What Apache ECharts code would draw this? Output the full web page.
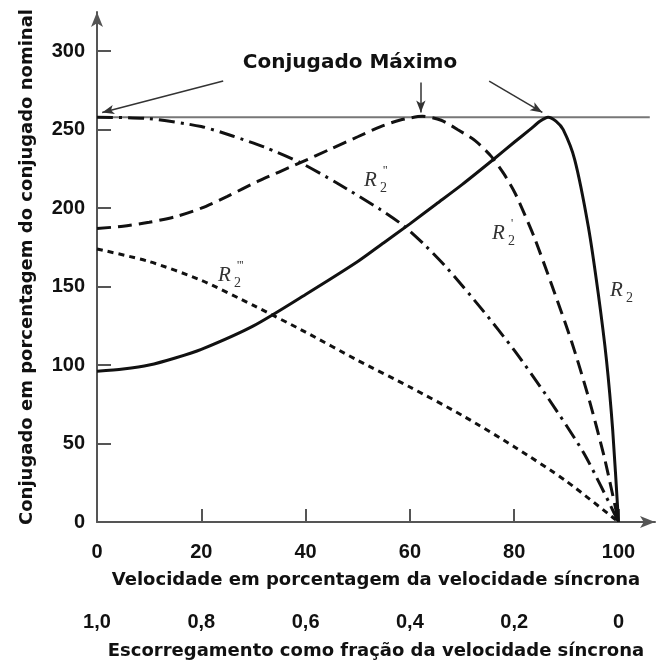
<!DOCTYPE html>
<html><head><meta charset="utf-8">
<script src="https://cdn.jsdelivr.net/npm/echarts@6/dist/echarts.min.js"></script>
<style>html,body{margin:0;padding:0;background:#fff}#c{width:667px;height:662px}</style>
</head><body><div id="c"></div>
<script>
// ---- data ----
const speedTicks = [0, 20, 40, 60, 80, 100];
const torqueTicks = [0, 50, 100, 150, 200, 250, 300];
const slipLabels = ['1,0', '0,8', '0,6', '0,4', '0,2', '0'];

const r2Speed  = [0, 5, 10, 15, 20, 30, 40, 50, 55, 60, 65, 70, 76, 80, 83, 85, 86.5, 88, 89.4, 91.6, 94.2, 96.1, 97.7, 98.9, 100];
const r2Torque = [96, 97.5, 100, 104.5, 110, 125, 145, 166, 178, 190, 202.5, 215, 231, 242, 250, 255.5, 258, 255.5, 250, 231, 188.5, 146, 103, 58, 0];

const r2pSpeed  = [0, 5, 10, 15, 20, 25, 30.8, 39, 45, 50, 54.4, 58, 62.4, 66, 69.2, 72.5, 75.6, 78, 80.1, 82, 83.9, 87.1, 91, 94.2, 97.3, 100];
const r2pTorque = [187, 188.5, 191, 194.5, 200, 207.5, 217, 229, 238, 245.5, 252, 256, 258.5, 256, 250, 243, 233, 222, 210, 196, 181, 152, 115, 80, 41, 0];

const r2ppSpeed  = [0, 10, 20, 26, 32, 39, 46, 54.4, 58.9, 63, 67.2, 73.7, 80.1, 86.5, 93.5, 100];
const r2ppTorque = [258, 257, 252, 246, 239, 229, 216, 199, 188.5, 176, 161.5, 136, 109, 79, 43, 0];

const r2pppSpeed  = [0, 10, 20, 30, 40, 50, 60, 70, 80, 90, 100];
const r2pppTorque = [174, 166, 154, 138, 121, 103, 86, 68, 48, 26, 0];

const maxTorque = 258;
const maxLineSpeed = [0, 106];
// annotation arrows: [fromSpeed, fromTorque, toSpeed, toTorque]
const arrowCoords = [
  [24.2, 281, 1, 261],
  [62.1, 280, 62.1, 261],
  [75.2, 281, 85.4, 261]
];

const pairs = (xs, ys) => xs.map((x, i) => [x, ys[i]]);

const AXIS = '#555';
const INK = '#111';
const SANS = 'Liberation Sans';
const WIDE = 'DejaVu Sans';

const chart = echarts.init(document.getElementById('c'), null, {renderer: 'canvas'});

function rLabel(x, y, primes) {
  const els = [
    {type: 'text', x: x, y: y, style: {text: 'R', font: 'italic 21px "Liberation Serif", serif', fill: '#333', align: 'left', verticalAlign: 'middle'}},
    {type: 'text', x: x + 16, y: y + 8, style: {text: '2', font: '14px "Liberation Serif", serif', fill: '#333', align: 'left', verticalAlign: 'middle'}}
  ];
  if (primes) {
    els.push({type: 'text', x: x + 19, y: y - 9, style: {text: primes, font: '12px "Liberation Serif", serif', fill: '#333', align: 'left', verticalAlign: 'middle'}});
  }
  return els;
}

const tickLabel = {fontFamily: SANS, fontWeight: 'bold', fontSize: 20, color: INK};
const nameStyle = {fontFamily: WIDE, fontWeight: 'bold', fontSize: 18, color: INK};

const option = {
  animation: false,
  backgroundColor: '#fff',
  grid: {left: 97, right: 12, top: 12, bottom: 140, containLabel: false, outerBoundsMode: 'none'},
  xAxis: [{
    type: 'value', min: 0, max: 107,
    axisLine: {show: true, symbol: ['none', 'arrow'], symbolSize: [9, 15], lineStyle: {color: AXIS, width: 2}},
    axisTick: {show: true, inside: true, length: 13, customValues: speedTicks, lineStyle: {color: AXIS, width: 2}},
    axisLabel: Object.assign({customValues: speedTicks, margin: 20}, tickLabel),
    splitLine: {show: false},
    name: 'Velocidade em porcentagem da velocidade síncrona',
    nameLocation: 'middle', nameGap: 49,
    nameTextStyle: nameStyle
  }, {
    type: 'value', min: 0, max: 107, position: 'bottom', offset: 70,
    axisLine: {show: false}, axisTick: {show: false}, splitLine: {show: false},
    axisLabel: Object.assign({customValues: speedTicks, margin: 20,
      formatter: v => slipLabels[speedTicks.indexOf(v)]}, tickLabel),
    name: 'Escorregamento como fração da velocidade síncrona',
    nameLocation: 'middle', nameGap: 50,
    nameTextStyle: nameStyle
  }],
  yAxis: {
    type: 'value', min: 0, max: 325,
    axisLine: {show: true, symbol: ['none', 'arrow'], symbolSize: [9, 15], lineStyle: {color: AXIS, width: 2}},
    axisTick: {show: true, inside: true, length: 14, customValues: torqueTicks, lineStyle: {color: AXIS, width: 2}},
    axisLabel: Object.assign({customValues: torqueTicks, margin: 12}, tickLabel),
    splitLine: {show: false},
    name: 'Conjugado em porcentagem do conjugado nominal',
    nameLocation: 'middle', nameGap: 61,
    nameTextStyle: nameStyle
  },
  series: [
    {
      type: 'line', name: 'max', data: maxLineSpeed.map(s => [s, maxTorque]), symbol: 'none',
      lineStyle: {color: '#777', width: 2}, z: 1,
      markLine: {
        silent: true, symbol: ['none', 'arrow'], symbolSize: [7, 12], label: {show: false},
        lineStyle: {color: '#333', width: 1.5, type: 'solid'},
        data: arrowCoords.map(a => [{coord: [a[0], a[1]]}, {coord: [a[2], a[3]]}])
      }
    },
    {type: 'line', name: 'R2', data: pairs(r2Speed, r2Torque), symbol: 'none', smooth: 0.25,
      lineStyle: {color: INK, width: 3}},
    {type: 'line', name: "R2'", data: pairs(r2pSpeed, r2pTorque), symbol: 'none', smooth: 0.25,
      lineStyle: {color: INK, width: 3, type: [14, 7]}},
    {type: 'line', name: "R2''", data: pairs(r2ppSpeed, r2ppTorque), symbol: 'none', smooth: 0.25,
      lineStyle: {color: INK, width: 3, type: [16, 6, 3, 6]}},
    {type: 'line', name: "R2'''", data: pairs(r2pppSpeed, r2pppTorque), symbol: 'none', smooth: 0.25,
      lineStyle: {color: INK, width: 3, type: [6, 5]}}
  ],
  graphic: [
    {type: 'text', x: 350, y: 63, style: {text: 'Conjugado Máximo', font: 'bold 20px "DejaVu Sans", sans-serif', fill: INK, align: 'center', verticalAlign: 'middle'}},
    ...rLabel(364, 180, "''"),
    ...rLabel(492, 233, "'"),
    ...rLabel(610, 290, ''),
    ...rLabel(218, 275, "'''")
  ]
};
chart.setOption(option);
</script>
</body></html>
